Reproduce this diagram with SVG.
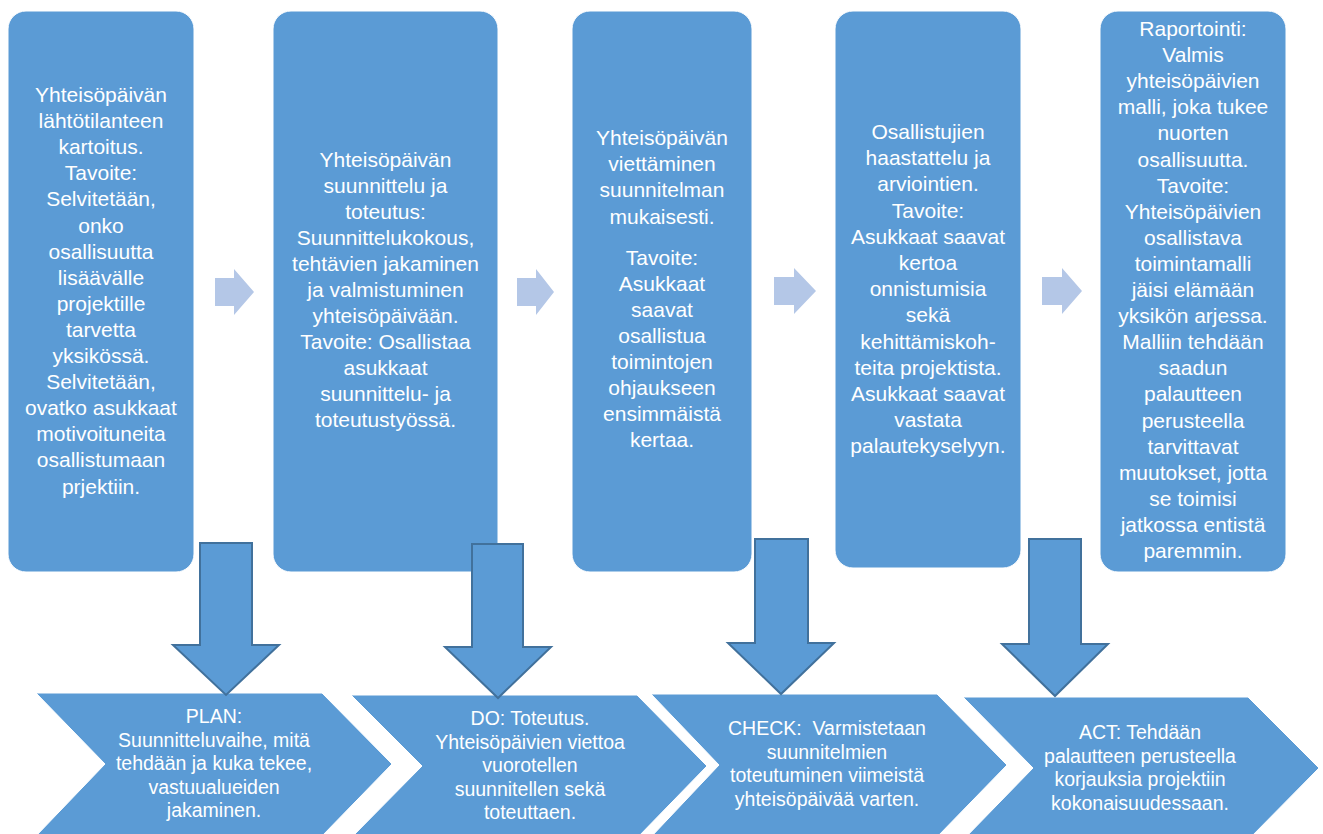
<svg xmlns="http://www.w3.org/2000/svg" width="1323" height="834" viewBox="0 0 1323 834">
<style>
.box{fill:#5B9BD5;stroke:#FFFFFF;stroke-width:1}
.chev{fill:#5B9BD5;stroke:#FFFFFF;stroke-width:1}
.rarrow{fill:#B4C7E7}
.darrow{fill:#5B9BD5;stroke:#41719C;stroke-width:2}
.t{font-family:"Liberation Sans",Arial,sans-serif;font-size:21px;fill:#FFFFFF;text-anchor:middle}
.c{font-family:"Liberation Sans",Arial,sans-serif;font-size:19.5px;fill:#FFFFFF;text-anchor:middle}
</style>
<rect width="1323" height="834" fill="#FFFFFF"/>
<g id="box1">
<rect class="box" x="8" y="11" width="186" height="561" rx="18"/>
<text class="t" x="101" y="102"><tspan x="101">Yhteisöpäivän</tspan><tspan x="101" dy="26.1">lähtötilanteen</tspan><tspan x="101" dy="26.1">kartoitus.</tspan><tspan x="101" dy="26.1">Tavoite:</tspan><tspan x="101" dy="26.1">Selvitetään,</tspan><tspan x="101" dy="26.1">onko</tspan><tspan x="101" dy="26.1">osallisuutta</tspan><tspan x="101" dy="26.1">lisäävälle</tspan><tspan x="101" dy="26.1">projektille</tspan><tspan x="101" dy="26.1">tarvetta</tspan><tspan x="101" dy="26.1">yksikössä.</tspan><tspan x="101" dy="26.1">Selvitetään,</tspan><tspan x="101" dy="26.1">ovatko asukkaat</tspan><tspan x="101" dy="26.1">motivoituneita</tspan><tspan x="101" dy="26.1">osallistumaan</tspan><tspan x="101" dy="26.1">prjektiin.</tspan></text>
</g>
<g id="box2">
<rect class="box" x="273" y="11" width="225" height="561" rx="18"/>
<text class="t" x="385.5" y="167"><tspan x="385.5">Yhteisöpäivän</tspan><tspan x="385.5" dy="26">suunnittelu ja</tspan><tspan x="385.5" dy="26">toteutus:</tspan><tspan x="385.5" dy="26">Suunnittelukokous,</tspan><tspan x="385.5" dy="26">tehtävien jakaminen</tspan><tspan x="385.5" dy="26">ja valmistuminen</tspan><tspan x="385.5" dy="26">yhteisöpäivään.</tspan><tspan x="385.5" dy="26">Tavoite: Osallistaa</tspan><tspan x="385.5" dy="26">asukkaat</tspan><tspan x="385.5" dy="26">suunnittelu- ja</tspan><tspan x="385.5" dy="26">toteutustyössä.</tspan></text>
</g>
<g id="box3">
<rect class="box" x="572" y="11" width="180" height="561" rx="18"/>
<text class="t" x="662" y="145"><tspan x="662">Yhteisöpäivän</tspan><tspan x="662" dy="26.2">viettäminen</tspan><tspan x="662" dy="26.2">suunnitelman</tspan><tspan x="662" dy="26.2">mukaisesti.</tspan><tspan x="662" dy="41">Tavoite:</tspan><tspan x="662" dy="26.1">Asukkaat</tspan><tspan x="662" dy="26.1">saavat</tspan><tspan x="662" dy="26.1">osallistua</tspan><tspan x="662" dy="26.1">toimintojen</tspan><tspan x="662" dy="26.1">ohjaukseen</tspan><tspan x="662" dy="26.1">ensimmäistä</tspan><tspan x="662" dy="26.1">kertaa.</tspan></text>
</g>
<g id="box4">
<rect class="box" x="835" y="11" width="186" height="557" rx="18"/>
<text class="t" x="928" y="139"><tspan x="928">Osallistujien</tspan><tspan x="928" dy="26.2">haastattelu ja</tspan><tspan x="928" dy="26.2">arviointien.</tspan><tspan x="928" dy="26.2">Tavoite:</tspan><tspan x="928" dy="26.2">Asukkaat saavat</tspan><tspan x="928" dy="26.2">kertoa</tspan><tspan x="928" dy="26.2">onnistumisia</tspan><tspan x="928" dy="26.2">sekä</tspan><tspan x="928" dy="26.2">kehittämiskoh-</tspan><tspan x="928" dy="26.2">teita projektista.</tspan><tspan x="928" dy="26.2">Asukkaat saavat</tspan><tspan x="928" dy="26.2">vastata</tspan><tspan x="928" dy="26.2">palautekyselyyn.</tspan></text>
</g>
<g id="box5">
<rect class="box" x="1100" y="11" width="186" height="561" rx="18"/>
<text class="t" x="1193" y="36"><tspan x="1193">Raportointi:</tspan><tspan x="1193" dy="26.1">Valmis</tspan><tspan x="1193" dy="26.1">yhteisöpäivien</tspan><tspan x="1193" dy="26.1">malli, joka tukee</tspan><tspan x="1193" dy="26.1">nuorten</tspan><tspan x="1193" dy="26.1">osallisuutta.</tspan><tspan x="1193" dy="26.1">Tavoite:</tspan><tspan x="1193" dy="26.1">Yhteisöpäivien</tspan><tspan x="1193" dy="26.1">osallistava</tspan><tspan x="1193" dy="26.1">toimintamalli</tspan><tspan x="1193" dy="26.1">jäisi elämään</tspan><tspan x="1193" dy="26.1">yksikön arjessa.</tspan><tspan x="1193" dy="26.1">Malliin tehdään</tspan><tspan x="1193" dy="26.1">saadun</tspan><tspan x="1193" dy="26.1">palautteen</tspan><tspan x="1193" dy="26.1">perusteella</tspan><tspan x="1193" dy="26.1">tarvittavat</tspan><tspan x="1193" dy="26.1">muutokset, jotta</tspan><tspan x="1193" dy="26.1">se toimisi</tspan><tspan x="1193" dy="26.1">jatkossa entistä</tspan><tspan x="1193" dy="26.1">paremmin.</tspan></text>
</g>
<g id="plan">
<polygon class="chev" points="36,693 322,693 392,764 322,836 36,836 105,764"/>
<text class="c" x="214" y="723"><tspan x="214">PLAN:</tspan><tspan x="214" dy="23.5">Suunnitteluvaihe, mitä</tspan><tspan x="214" dy="23.5">tehdään ja kuka tekee,</tspan><tspan x="214" dy="23.5">vastuualueiden</tspan><tspan x="214" dy="23.5">jakaminen.</tspan></text>
</g>
<g id="do">
<polygon class="chev" points="351,695 637,695 707,766 637,838 351,838 422,766"/>
<text class="c" x="530" y="725"><tspan x="530">DO: Toteutus.</tspan><tspan x="530" dy="23.5">Yhteisöpäivien viettoa</tspan><tspan x="530" dy="23.5">vuorotellen</tspan><tspan x="530" dy="23.5">suunnitellen sekä</tspan><tspan x="530" dy="23.5">toteuttaen.</tspan></text>
</g>
<g id="check">
<polygon class="chev" points="651,694 937,694 1007,765 937,837 651,837 719,765"/>
<text class="c" x="827" y="735" xml:space="preserve"><tspan x="827">CHECK:  Varmistetaan</tspan><tspan x="827" dy="23.5">suunnitelmien</tspan><tspan x="827" dy="23.5">toteutuminen viimeistä</tspan><tspan x="827" dy="23.5">yhteisöpäivää varten.</tspan></text>
</g>
<g id="act">
<polygon class="chev" points="963,697 1248,697 1319,768 1248,840 963,840 1033,768"/>
<text class="c" x="1140" y="739"><tspan x="1140">ACT: Tehdään</tspan><tspan x="1140" dy="23.5">palautteen perusteella</tspan><tspan x="1140" dy="23.5">korjauksia projektiin</tspan><tspan x="1140" dy="23.5">kokonaisuudessaan.</tspan></text>
</g>
<g id="connectors">
<polygon class="rarrow" points="215,278 234,278 234,269 254,292 234,315 234,306 215,306"/>
<polygon class="rarrow" points="517,278 536,278 536,269 554,292 536,315 536,306 517,306"/>
<polygon class="rarrow" points="774,277 794,277 794,268 816,291 794,314 794,305 774,305"/>
<polygon class="rarrow" points="1042,277 1062,277 1062,268 1082,291 1062,314 1062,305 1042,305"/>
<polygon class="darrow" points="200,543 252,543 252,645 279,645 226,695 173,645 200,645"/>
<polygon class="darrow" points="472,544 523,544 523,647 551,647 498,698 445,647 472,647"/>
<polygon class="darrow" points="755,539 808,539 808,643 834,643 781,694 728,643 755,643"/>
<polygon class="darrow" points="1029,539 1081,539 1081,644 1108,644 1055,696 1002,644 1029,644"/>
</g>
</svg>
